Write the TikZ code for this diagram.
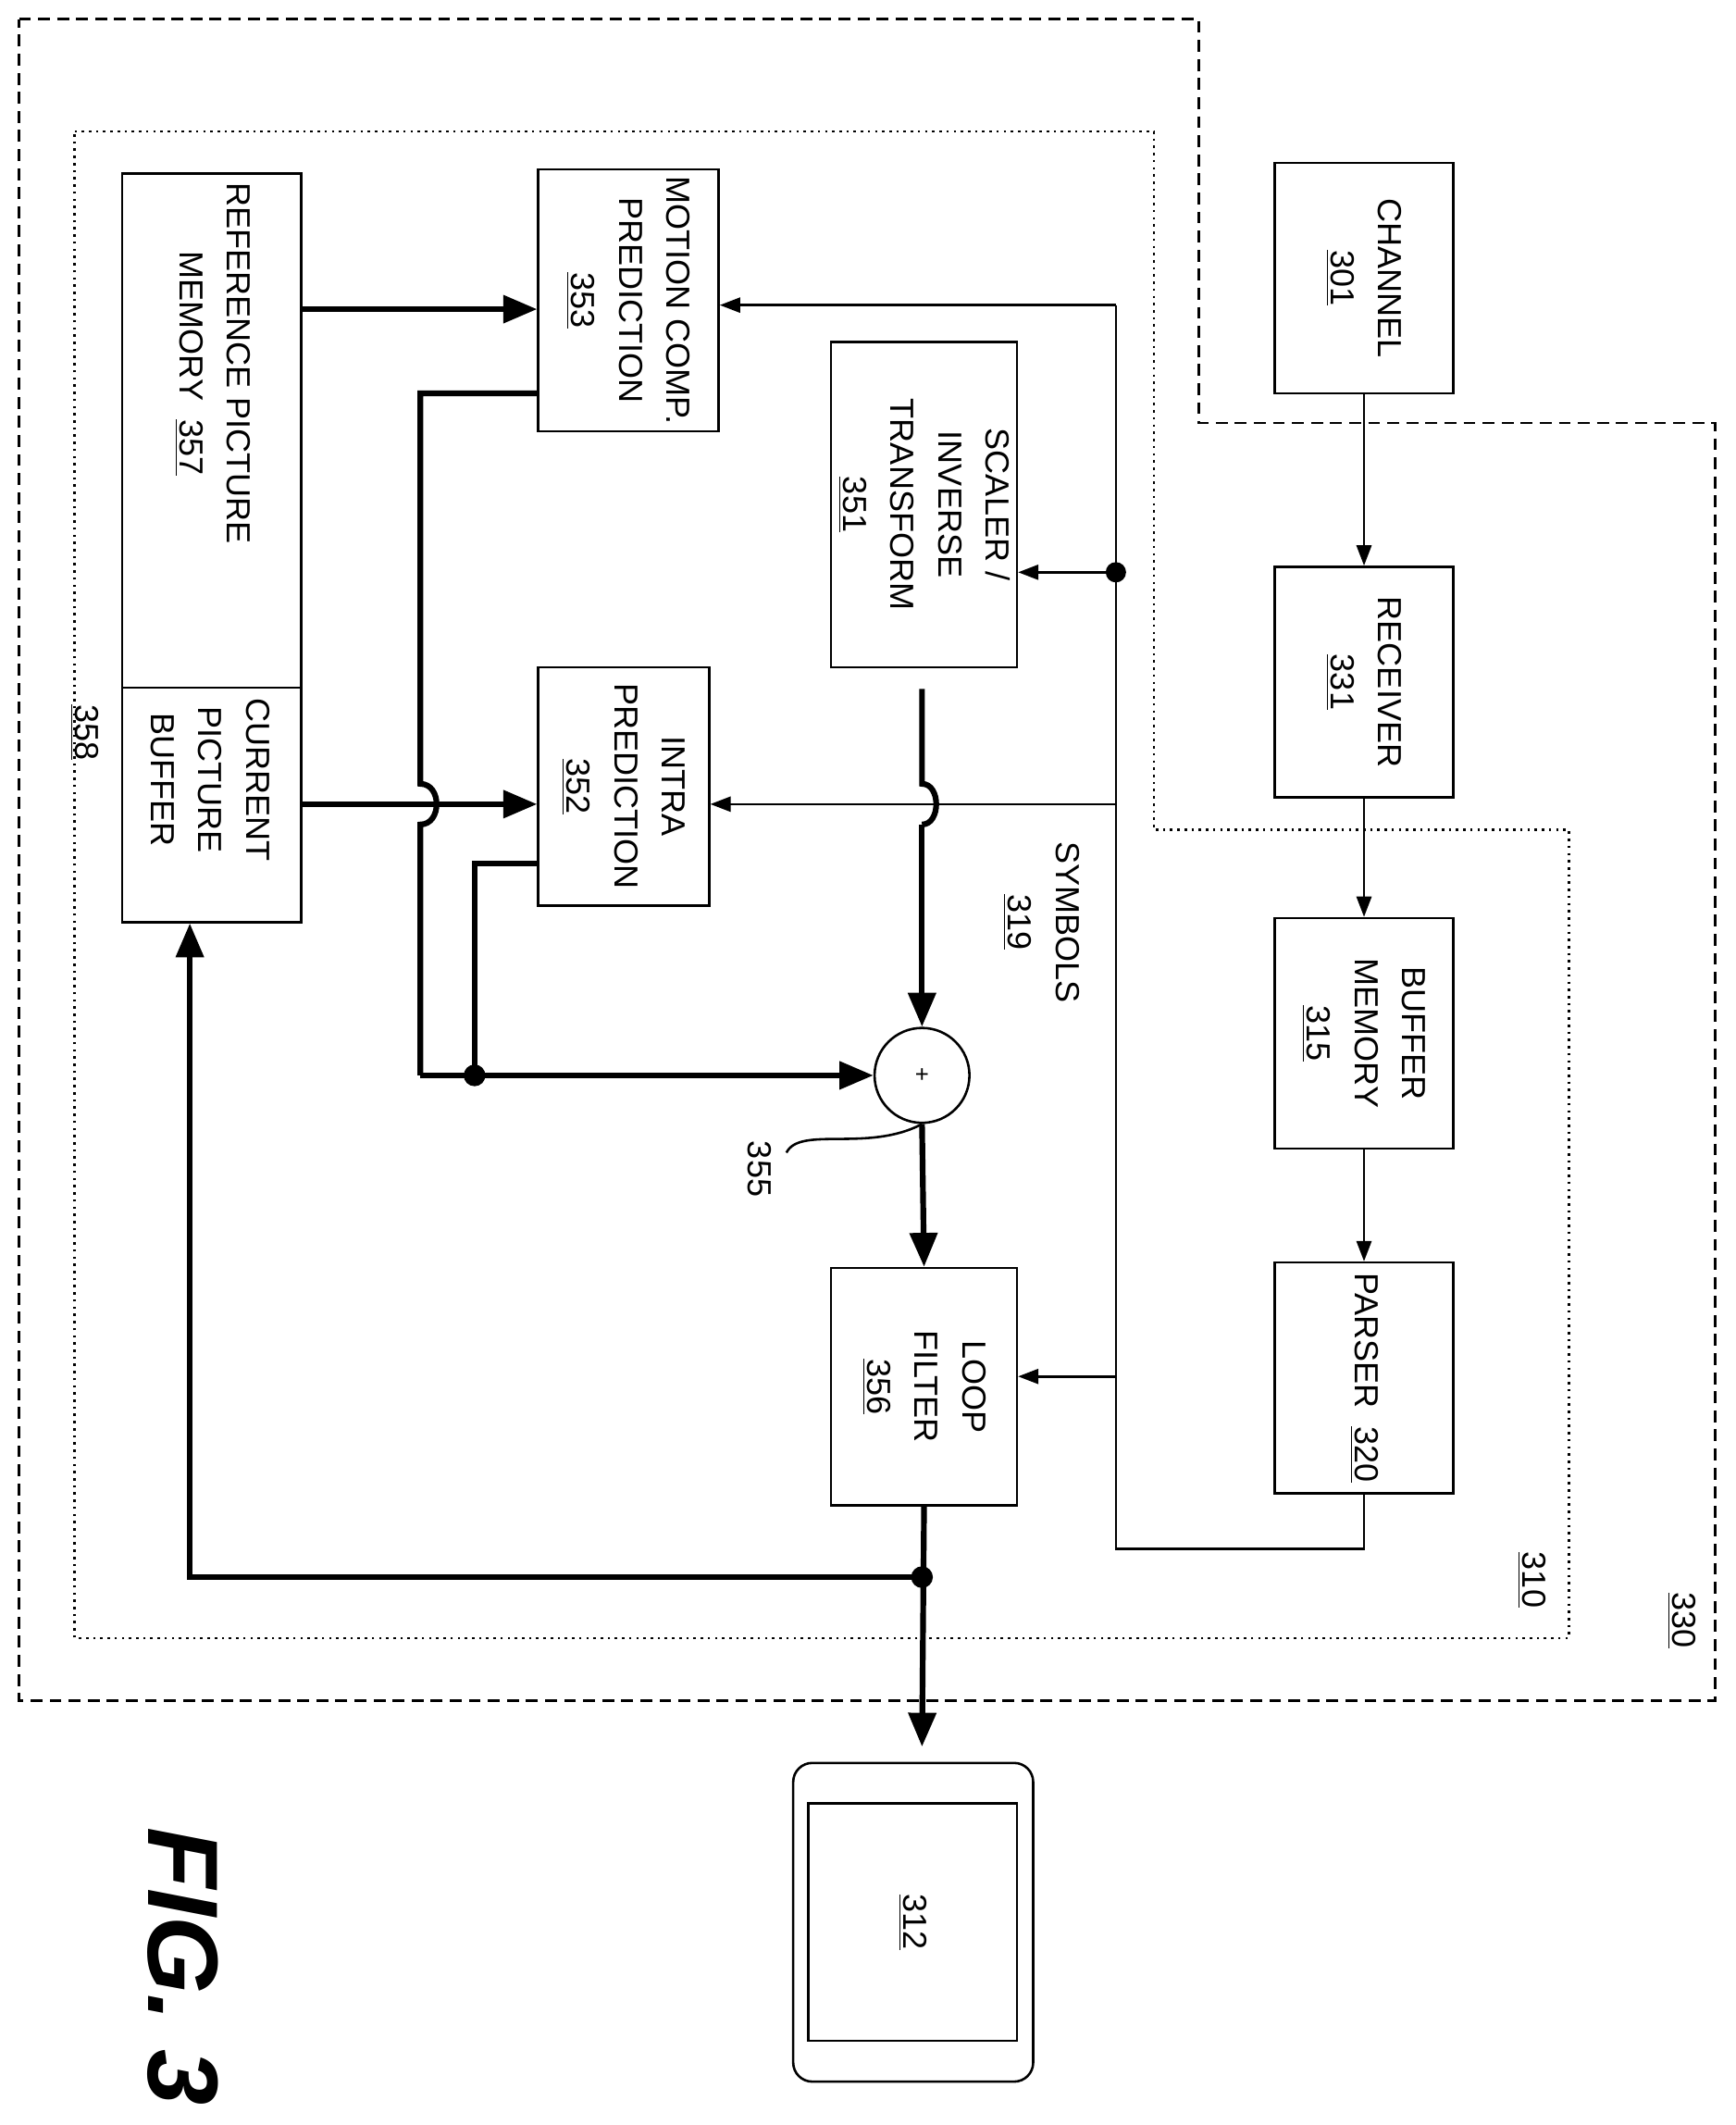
\documentclass[tikz,border=0pt]{standalone}
\usepackage{fontspec}
\setmainfont{Liberation Sans}
\usetikzlibrary{arrows.meta,fit}
\tikzset{
  box/.style={draw, line width=1pt, inner sep=0pt},
  txt/.style={rotate=-90, align=center, font=\fontsize{14}{20}\selectfont},
  thin/.style={line width=1pt, -{Triangle[length=0.3cm,width=0.22cm]}},
  thick/.style={line width=2.4pt, -{Triangle[length=0.5cm,width=0.4cm]}},
  dot/.style={circle, fill, inner sep=0pt, minimum size=0.32cm}
}
\begin{document}
\begin{tikzpicture}[x=0.02cm, y=-0.02cm]
\useasboundingbox (0,0) rectangle (1280,1567);
% outer and inner boundaries
\draw[line width=1pt, dash pattern=on 5pt off 3pt] (14,14) -- (884,14) -- (884,312) -- (1265,312) -- (1265,1254) -- (14,1254) -- cycle;
\draw[line width=1pt, dotted] (55,97) -- (851,97) -- (851,612) -- (1157,612) -- (1157,1208) -- (55,1208) -- cycle;
\node[txt] (l330) at (1240,1195) {\underline{330}};
\node[txt] (l310) at (1130,1165) {\underline{310}};
\node[txt] (l358) at (62,540) {\underline{358}};
% receiver side
\node[box, fit={(940,120) (1072,290)}] (chan) {};
\node[txt] at (chan) {CHANNEL\\\underline{301}};
\node[box, fit={(940,418) (1072,588)}] (recv) {};
\node[txt] at (recv) {RECEIVER\\\underline{331}};
\node[box, fit={(940,677) (1072,847)}] (buf) {};
\node[txt] at (buf) {BUFFER\\MEMORY\\\underline{315}};
\node[box, fit={(940,931) (1072,1101)}] (pars) {};
\node[txt] at (pars) {PARSER \ \underline{320}};
\draw[thin] (chan) -- (recv);
\draw[thin] (recv) -- (buf);
\draw[thin] (buf) -- (pars);
% decoder blocks
\node[box, fit={(90,128) (222,680)}] (rpm) {};
\draw[line width=1pt] (90,507) -- (222,507);
\node[txt] at (157,268) {REFERENCE PICTURE\\MEMORY \ \underline{357}};
\node[txt] at (155,575) {CURRENT\\PICTURE\\BUFFER};
\node[box, fit={(397,125) (530,318)}] (mcp) {};
\node[txt] at (mcp) {MOTION COMP.\\PREDICTION\\\underline{353}};
\node[box, fit={(613,252) (750,492)}] (scal) {};
\node[txt] at (scal) {SCALER /\\INVERSE\\TRANSFORM\\\underline{351}};
\node[box, fit={(397,492) (523,668)}] (intra) {};
\node[txt] at (intra) {INTRA\\PREDICTION\\\underline{352}};
\node[box, fit={(613,935) (750,1110)}] (loop) {};
\node[txt] at (loop) {LOOP\\FILTER\\\underline{356}};
\node[draw, circle, line width=1pt, minimum size=1.4cm, inner sep=0pt] (add) at (680,793) {+};
\node[txt] (l355) at (560,862) {355};
\draw[line width=1pt] (580,850) .. controls (590,830) and (640,850) .. (add.south);
\node[txt] (sym) at (768,680) {SYMBOLS\\\underline{319}};
% symbols bus
\coordinate (bt) at (823,225);
\coordinate (bs) at (823,422);
\coordinate (bi) at (823,593);
\coordinate (bl) at (823,1015);
\draw[line width=1pt] (pars.south) |- (823,1142) -- (bt);
\draw[thin] (bt) -- (mcp.east |- bt);
\node[dot, minimum size=0.3cm] at (bs) {};
\draw[thin] (bs) -- (scal.east |- bs);
\draw[thin] (bi) -- (intra.east |- bi);
\draw[thin] (bl) -- (loop.east |- bl);
% data path
\draw[thick] (rpm.east |- 0,228) -- (mcp.west |- 0,228);
\draw[thick] (rpm.east |- 0,593) -- (intra.west |- 0,593);
\draw[line width=2.4pt] (mcp.west |- 0,290) -- (310,290) -- (310,578) .. controls (326,578) and (326,608) .. (310,608) -- (310,793);
\draw[thick] (310,793) -- (add.west);
\draw[line width=2.4pt] (intra.west |- 0,637) -- (350,637) -- (350,793);
\node[dot] at (350,793) {};
\draw[line width=2.4pt] (680,508) -- (680,578) .. controls (694,578) and (694,608) .. (680,608);
\draw[thick] (680,608) -- (add.north);
\draw[thick] (add.south) -- (loop.north);
\coordinate (tap) at (680,1163);
\node[dot] at (tap) {};
\draw[thick] (loop.south) -- (680,1288);
\draw[thick] (tap) -- (140,1163) -- (rpm.south -| 140,0);
% display
\node[draw, line width=1pt, rounded corners=8pt, fit={(585,1300) (762,1535)}, inner sep=0pt] (disp) {};
\node[draw, line width=1pt, fit={(596,1330) (750,1505)}, inner sep=0pt] (scr) {};
\node[txt] at (scr) {\underline{312}};
\node[rotate=-90, font=\fontsize{42}{42}\selectfont\bfseries\itshape] (fig) at (135,1450) {FIG. 3};
\end{tikzpicture}
\end{document}
